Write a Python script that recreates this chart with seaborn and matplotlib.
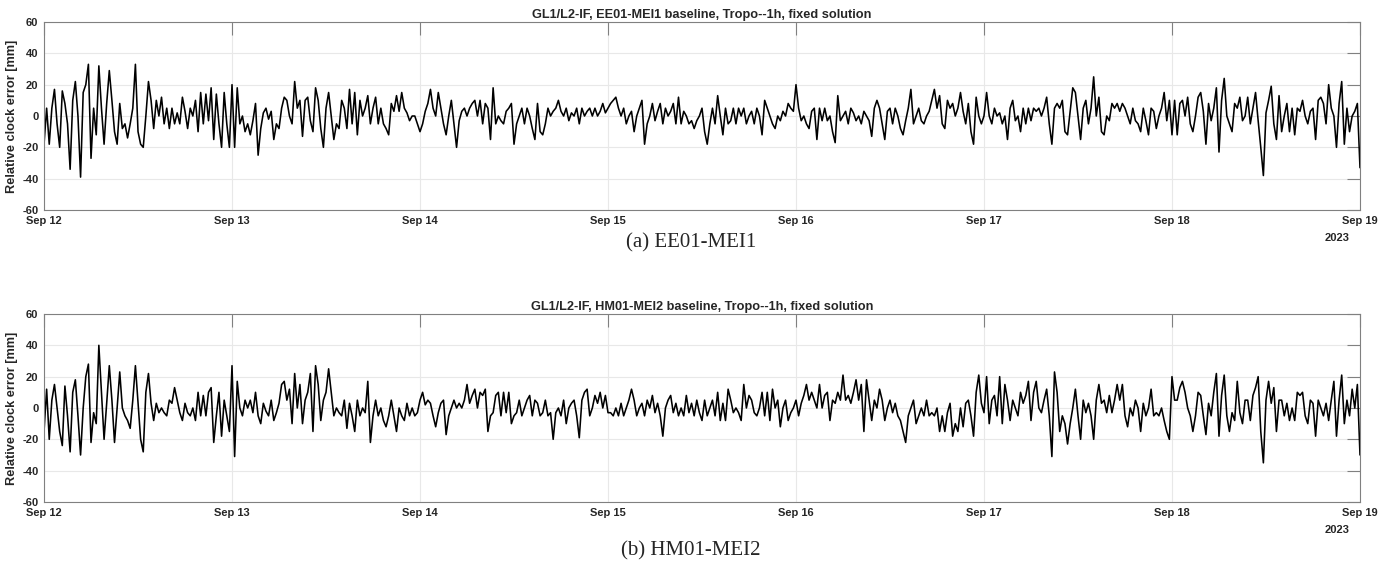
import numpy as np
import pandas as pd
import matplotlib
matplotlib.use("Agg")
import matplotlib.pyplot as plt
import matplotlib.dates as mdates
import seaborn as sns

# 20-minute samples, one list per day
days = ["2023-09-12", "2023-09-13", "2023-09-14", "2023-09-15",
        "2023-09-16", "2023-09-17", "2023-09-18"]
step_min = 20

# EE01-MEI1
ee_sep12 = [-18, 5, -18, 5, 17, -5, -20, 16, 8, -5, -34, 10, 22, 0, -39, 15, 20, 33, -27, 5,
            -12, 32, 5, -18, 8, 29, 10, -10, -18, 8, -8, -5, -14, -5, 5, 33, -10, -18, -20, 0,
            22, 10, -8, 10, 0, 12, -5, 5, -8, 5, -5, 2, -5, 12, 3, -8, 5, 0, 10, -10,
            15, -5, 14, -3, 18, -15, 14, -5, -20, 15, -5, -20]
ee_sep13 = [20, -20, 18, -5, 0, -10, -5, -12, -3, 8, -25, -8, 2, 5, -2, 3, -15, -5, -8, 5,
            12, 10, 0, -5, 22, 5, 10, -13, 10, 12, -3, -10, 18, 10, -8, -20, 5, 15, 0, -15,
            -5, -8, 10, 5, -8, 17, -5, 15, -12, 10, 0, 5, 13, -5, 5, 12, -5, 5, -5, -8,
            -12, 8, 3, 13, 3, 15, 5, 2, -3, 0, 0, -5]
ee_sep14 = [-10, -5, 3, 8, 17, 5, 0, 15, 5, -5, -12, 0, 10, -5, -20, -3, 3, 5, 0, 5,
            8, 10, 0, 10, -5, 8, 5, -15, 18, -5, 0, -3, -5, 3, 5, 8, -18, -5, 0, 5,
            -5, 5, 0, -8, -15, 8, -10, -12, -5, 5, 0, 3, 5, 10, 3, 0, 5, -3, 2, 0,
            5, -5, 5, 0, 3, 5, 0, 5, 0, 3, 8, 2]
ee_sep15 = [5, 8, 10, 12, 5, 0, 5, -5, 0, 3, -10, 0, 5, 10, -18, -5, 0, 8, -3, 3,
            8, -5, 5, 0, 3, 8, -5, 12, -5, 3, 0, -5, -3, -8, -3, 0, 5, -10, -18, -5,
            5, -5, 13, 0, -12, 5, -5, -3, 5, -5, 5, 0, 5, -5, 0, 3, -5, 5, 0, -12,
            10, 5, 0, -5, -8, 0, -3, 3, 0, 8, 5, 3]
ee_sep16 = [20, 5, -3, 0, -5, -8, 3, 5, -15, 5, -3, 5, -3, 0, -10, -17, 13, -3, 0, 3,
            -5, 5, 2, -3, 0, -5, 3, 0, -3, -13, 5, 10, 5, -5, -15, 3, 5, -5, 5, 0,
            -8, -12, -3, 5, 17, -5, 0, 5, -3, -5, 0, 3, 10, 17, 5, 13, -5, -8, 10, 5,
            8, 0, 5, 15, 3, -5, 8, -10, -18, 12, 0, -5]
ee_sep17 = [0, 15, 0, -5, 5, 0, 2, -5, 0, -15, 5, 10, -3, 0, -10, 5, -5, 5, -3, 5,
            3, 5, 0, 5, 12, -5, -18, 5, 8, 5, 10, -10, -12, 3, 18, 15, 0, -15, 5, 10,
            -5, 5, 25, 0, 12, -10, -12, 0, -3, 8, 5, 8, 3, 8, 5, 0, -5, 5, -3, -5,
            -10, 5, -3, -12, 5, 3, -8, 0, 5, 15, -3, 10]
ee_sep18 = [-12, 10, -12, 8, 10, 0, 12, -5, -10, 0, 12, 15, 3, -18, 8, -3, 5, 18, -23, 10,
            24, 0, -5, -10, 8, 5, 12, -3, 0, 12, -5, 5, 15, -3, -20, -38, 2, 10, 19, -5,
            -15, 13, -10, 0, 8, -10, 5, -12, 5, 3, 10, 0, -5, 3, 5, -15, 10, 12, 8, -5,
            20, 5, 0, -20, 8, 22, -18, 5, -10, 0, 3, 8, -33]

# HM01-MEI2
hm_sep12 = [-15, 12, -20, 5, 15, 0, -15, -24, 14, -5, -28, 10, 18, -5, -30, 0, 20, 28, -22, -3,
            -10, 40, 10, -20, 3, 27, 5, -22, 0, 23, 0, -5, -8, -13, 5, 27, 3, -20, -28, 10,
            22, 3, -8, 3, -3, 0, -3, -5, 5, 3, 13, 5, -3, -8, 3, -3, -5, 0, -8, 10,
            -5, 8, -5, 10, 13, -22, -5, 10, -18, 5, -5, -15]
hm_sep13 = [27, -31, 17, 0, -5, 5, 0, 5, -3, 10, -5, -10, 3, -2, -5, 5, -8, -3, 3, 15,
            17, 5, 12, -10, 22, 0, 15, -10, 5, 10, 22, -15, 27, 15, -8, 5, 10, 25, 10, -5,
            0, -3, -5, 5, -13, 3, -5, -15, 5, -5, 0, -3, 17, -22, -5, 5, -5, 0, -8, -12,
            -5, 5, -5, -15, 0, -5, -8, 3, -5, 0, -5, -3]
hm_sep14 = [5, 10, 2, 5, 3, -5, -12, -3, 3, 5, -17, -5, 0, 5, 0, 3, 0, 5, 15, 3,
            8, 12, 0, 10, 8, 12, -15, -5, -3, 8, 10, -5, 10, -3, 10, -10, -5, -3, 5, -5,
            0, 5, 8, -5, 5, 3, -5, -3, 5, -5, -3, -20, -3, 0, -5, 5, -10, 0, 3, 5,
            -5, -19, 5, 10, 12, -5, 0, 8, 3, 10, 0, 8]
hm_sep15 = [-3, -3, -5, 0, -5, 3, -5, 0, 5, 12, 5, -5, 0, 3, -5, 5, 0, 8, -3, 3,
            -5, -18, 0, 5, 8, -3, 3, -5, 0, -5, 8, -3, 3, -5, 5, -3, -8, 5, -5, 0,
            5, -5, 10, -8, 3, -8, 12, 5, -3, 0, -3, -8, 15, 0, 8, 5, -3, -5, 0, 10,
            -5, 10, -8, 12, 0, 5, -12, 0, 5, -8, -3, 0]
hm_sep16 = [5, -5, 3, 8, 15, 5, 10, 5, 0, 15, 0, 8, 10, -8, 5, 3, 10, 5, 21, 5,
            8, 3, 10, 18, 5, 15, -15, 18, 5, -8, 5, 0, 12, 5, -8, 0, 5, -3, 3, -5,
            -8, -15, -22, -5, 0, 5, -10, -5, 0, -5, 5, -5, -3, -5, 0, -15, -5, -15, -3, 3,
            -18, -10, -15, 0, -12, 3, 5, -5, -18, 10, 21, 3]
hm_sep17 = [-3, 20, -10, 5, 8, -5, 20, -10, 15, 5, -8, 5, 0, -5, 10, 3, 8, 17, -8, 10,
            17, 0, -3, 5, 12, -5, -31, 23, 10, -15, -5, -10, -23, -10, 0, 12, -5, -20, 5, -3,
            3, -5, -20, 5, 15, 3, 5, -3, 8, -3, 5, 15, 5, 15, -5, -12, 0, -5, 5, 0,
            -15, 3, -5, 0, 12, -5, -3, -5, 0, -8, -15, -20]
hm_sep18 = [20, 5, 5, 13, 17, 10, 0, -5, -15, -5, 10, 8, -5, -17, 3, -5, 10, 22, -18, 8,
            21, -5, -15, -3, -8, 17, -3, -10, 5, 5, -8, 8, 13, 20, -15, -35, 5, 17, 3, 13,
            -15, 5, 5, -5, 3, -8, 0, -8, 10, 8, 10, -5, -10, 5, 3, -18, 5, 0, -5, 3,
            -8, 5, 17, -18, 5, 21, -10, 5, -5, 12, 0, 15, -30]

ee01 = [ee_sep12, ee_sep13, ee_sep14, ee_sep15, ee_sep16, ee_sep17, ee_sep18]
hm01 = [hm_sep12, hm_sep13, hm_sep14, hm_sep15, hm_sep16, hm_sep17, hm_sep18]

titles = ["GL1/L2-IF, EE01-MEI1 baseline, Tropo--1h, fixed solution",
          "GL1/L2-IF, HM01-MEI2 baseline, Tropo--1h, fixed solution"]
captions = ["(a) EE01-MEI1", "(b) HM01-MEI2"]


def build(day_lists):
    frames = []
    for d, vals in zip(days, day_lists):
        t = pd.Timestamp(d) + pd.to_timedelta(np.arange(len(vals)) * step_min, unit="min")
        frames.append(pd.DataFrame({"time": t, "err": vals}))
    return pd.concat(frames, ignore_index=True)


sns.set_style("white")
plt.rcParams['font.family'] = ['Liberation Sans', 'DejaVu Sans']
plt.rcParams['font.weight'] = 'bold'
plt.rcParams['axes.titleweight'] = 'bold'
plt.rcParams['axes.labelweight'] = 'bold'
plt.rcParams['axes.unicode_minus'] = False

fig = plt.figure(figsize=(13.93, 5.76), dpi=100)
ax1 = fig.add_axes([0.0316, 0.6354, 0.9447, 0.3264])
ax2 = fig.add_axes([0.0316, 0.1285, 0.9447, 0.3264])
cap_y = [1 - 243 / 576, 1 - 551 / 576]

for ax, data, title, cap, cy in zip([ax1, ax2], [ee01, hm01], titles, captions, cap_y):
    df = build(data)
    sns.lineplot(data=df, x="time", y="err", ax=ax, color="black",
                 linewidth=1.15, estimator=None)
    ax.set_xlim(pd.Timestamp("2023-09-12"), pd.Timestamp("2023-09-19"))
    ax.set_ylim(-60, 60)
    ax.set_yticks(range(-60, 61, 20))
    ax.xaxis.set_major_locator(mdates.DayLocator())
    ax.xaxis.set_major_formatter(mdates.DateFormatter("%b %d"))
    ax.grid(True, color="#e8e8e8", linewidth=0.8)
    ax.set_axisbelow(True)
    for s in ax.spines.values():
        s.set_color("#808080")
        s.set_linewidth(0.8)
    ax.tick_params(direction="in", top=True, right=True, length=9.4, width=0.8,
                   color="#808080", labelsize=8, labelcolor="#262626", pad=4)
    ax.set_xlabel("")
    ax.set_ylabel("Relative clock error [mm]", fontsize=9.2, color="#262626")
    ax.yaxis.set_label_coords(-0.0194, 0.5)
    ax.set_title(title, fontsize=9.2, pad=3)
    ax.text(0.9924, -0.149, "2023", transform=ax.transAxes, ha="right", va="center",
            fontsize=8, color="#262626")
    fig.text(0.496, cy, cap, ha="center", va="center", fontsize=15, fontweight="normal",
             family=["Liberation Serif", "DejaVu Serif"])

fig.savefig("out.png", dpi=100)
